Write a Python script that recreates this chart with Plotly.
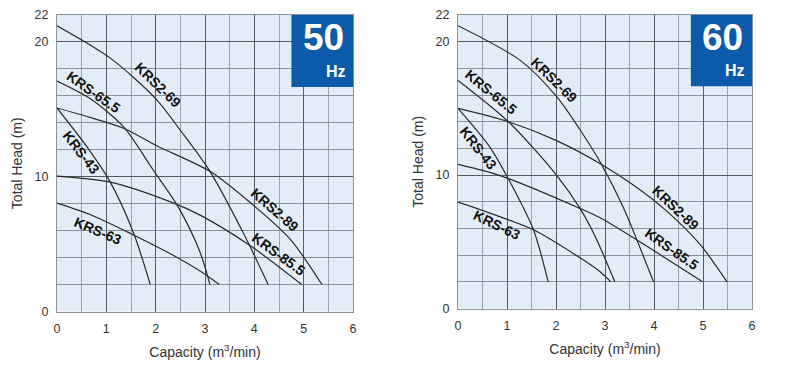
import plotly.graph_objects as go

# ---------------- data ----------------
x_ticks = [0, 1, 2, 3, 4, 5, 6]
y_ticks = [0, 10, 20, 22]

# 50 Hz curves (capacity m3/min, head m)
hz50_krs2_69_x = [0, 1.08, 2.0, 2.53, 3.1, 3.78, 4.28]
hz50_krs2_69_y = [21.2, 18.8, 15.8, 13.3, 10.4, 5.8, 2.0]
hz50_krs65_x = [0, 0.67, 1.35, 1.95, 2.45, 2.9, 3.1]
hz50_krs65_y = [17.1, 15.8, 13.7, 10.5, 7.8, 4.4, 2.0]
hz50_krs43_x = [0, 0.67, 1.08, 1.55, 1.89]
hz50_krs43_y = [15.1, 11.9, 9.6, 5.85, 2.0]
hz50_krs2_89_x = [0, 0.67, 1.35, 2.02, 3.1, 3.91, 4.73, 5.37]
hz50_krs2_89_y = [15.1, 14.4, 13.6, 12.3, 10.4, 8.1, 5.35, 2.0]
hz50_krs85_x = [0, 1.08, 2.29, 2.9, 3.91, 4.96]
hz50_krs85_y = [10.05, 9.6, 8.15, 7.15, 4.9, 2.0]
hz50_krs63_x = [0, 0.67, 1.54, 2.29, 2.9, 3.29]
hz50_krs63_y = [8.05, 7.2, 5.7, 4.3, 3.0, 2.0]

# 60 Hz curves
hz60_krs2_69_x = [0, 1.27, 2.01, 2.49, 2.93, 3.37, 3.99]
hz60_krs2_69_y = [21.2, 18.6, 15.9, 13.4, 10.8, 7.6, 2.0]
hz60_krs65_x = [0, 1.03, 2.01, 2.49, 2.8, 3.2]
hz60_krs65_y = [17.1, 14.0, 10.0, 7.5, 5.4, 2.0]
hz60_krs43_x = [0, 0.65, 1.06, 1.54, 1.84]
hz60_krs43_y = [15.0, 12.1, 9.5, 5.9, 2.0]
hz60_krs2_89_x = [0, 1.03, 2.0, 2.93, 3.6, 4.26, 4.94, 5.49]
hz60_krs2_89_y = [15.0, 14.0, 12.6, 10.8, 9.2, 7.3, 4.8, 2.0]
hz60_krs85_x = [0, 0.65, 1.06, 2.49, 2.9, 3.58, 4.99]
hz60_krs85_y = [10.8, 10.2, 9.7, 7.5, 6.8, 5.3, 2.0]
hz60_krs63_x = [0, 0.65, 1.54, 2.49, 2.9, 3.12]
hz60_krs63_y = [7.97, 7.15, 5.9, 3.8, 2.76, 2.0]

# curve labels: (text, x, y, angle)
labels_50 = [("KRS2-69", 2.05, 16.8, 44), ("KRS-65.5", 0.74, 16.3, 35),
             ("KRS-43", 0.48, 11.8, 52), ("KRS-63", 0.84, 6.0, 23),
             ("KRS2-89", 4.42, 7.55, 41), ("KRS-85.5", 4.49, 4.27, 36)]
labels_60 = [("KRS2-69", 1.96, 17.1, 44), ("KRS-65.5", 0.67, 16.2, 39),
             ("KRS-43", 0.41, 12.0, 52), ("KRS-63", 0.80, 6.26, 26),
             ("KRS2-89", 4.45, 7.56, 43), ("KRS-85.5", 4.36, 4.45, 35)]

badges = [("50", "x", "y"), ("60", "x2", "y2")]

# ---------------- figure ----------------
W, H = 788, 376
OFF = 8  # page body margin of the browser

fig = go.Figure()
line_style = dict(color="#2a2a2a", width=1.2, shape="spline", smoothing=0.8)

curves50 = [(hz50_krs2_69_x, hz50_krs2_69_y), (hz50_krs65_x, hz50_krs65_y),
            (hz50_krs43_x, hz50_krs43_y), (hz50_krs2_89_x, hz50_krs2_89_y),
            (hz50_krs85_x, hz50_krs85_y), (hz50_krs63_x, hz50_krs63_y)]
curves60 = [(hz60_krs2_69_x, hz60_krs2_69_y), (hz60_krs65_x, hz60_krs65_y),
            (hz60_krs43_x, hz60_krs43_y), (hz60_krs2_89_x, hz60_krs2_89_y),
            (hz60_krs85_x, hz60_krs85_y), (hz60_krs63_x, hz60_krs63_y)]

for cx, cy in curves50:
    fig.add_trace(go.Scatter(x=cx, y=cy, mode="lines", line=line_style,
                             xaxis="x", yaxis="y", showlegend=False, hoverinfo="skip"))
for cx, cy in curves60:
    fig.add_trace(go.Scatter(x=cx, y=cy, mode="lines", line=line_style,
                             xaxis="x2", yaxis="y2", showlegend=False, hoverinfo="skip"))

annotations = []
for labels, xr, yr in [(labels_50, "x", "y"), (labels_60, "x2", "y2")]:
    for t, lx, ly, ang in labels:
        annotations.append(dict(text="<b>" + t + "</b>", x=lx, y=ly, xref=xr, yref=yr,
                                showarrow=False, textangle=ang,
                                font=dict(family="Liberation Sans, Arial", size=14, color="#111")))

shapes = []
for txt, xr, yr in badges:
    shapes.append(dict(type="rect", xref=xr + " domain", yref=yr + " domain",
                       x0=0.792, x1=1.0, y0=0.757, y1=1.0,
                       fillcolor="#0B5BAA", line=dict(width=0), layer="above"))
    annotations.append(dict(text="<b>" + txt + "</b>", xref=xr + " domain", yref=yr + " domain",
                            x=0.90, y=0.925, showarrow=False, xanchor="center", yanchor="middle",
                            font=dict(family="Liberation Sans, Arial", size=37, color="white")))
    annotations.append(dict(text="<b>Hz</b>", xref=xr + " domain", yref=yr + " domain",
                            x=0.982, y=0.81, showarrow=False, xanchor="right", yanchor="middle",
                            font=dict(family="Liberation Sans, Arial", size=16, color="white")))

tick_font = dict(family="Liberation Sans, Arial", size=12.5, color="#333")
title_font = dict(family="Liberation Sans, Arial", size=14, color="#333")


def px_dom_x(a, b):
    return [(a - OFF) / W, (b - OFF) / W]


def px_dom_y(top, bottom):
    return [1 - (bottom - OFF) / H, 1 - (top - OFF) / H]


def xaxis(domain, anchor):
    return dict(domain=domain, anchor=anchor, range=[0, 6], tickvals=x_ticks,
                showgrid=True, gridcolor="#555b62", gridwidth=1,
                minor=dict(dtick=0.5, tick0=0, showgrid=True, gridcolor="#9aa3ad", gridwidth=1),
                showline=True, mirror=True, linecolor="#8a939c", linewidth=1,
                ticks="outside", ticklen=5, tickcolor="rgba(0,0,0,0)",
                tickfont=tick_font, ticklabeloverflow="allow",
                zeroline=False, fixedrange=True, automargin=False,
                title=dict(text="Capacity (m<sup>3</sup>/min)", font=title_font, standoff=12))


def yaxis(domain, anchor):
    return dict(domain=domain, anchor=anchor, range=[0, 22], tickvals=y_ticks,
                showgrid=True, gridcolor="#555b62", gridwidth=1,
                minor=dict(dtick=2, tick0=0, showgrid=True, gridcolor="#8a939c", gridwidth=1),
                showline=True, mirror=True, linecolor="#8a939c", linewidth=1,
                ticks="outside", ticklen=5, tickcolor="rgba(0,0,0,0)",
                tickfont=tick_font, ticklabeloverflow="allow",
                zeroline=False, fixedrange=True, automargin=False,
                title=dict(text="Total Head (m)", font=title_font, standoff=8))


fig.update_layout(
    width=W, height=H,
    margin=dict(l=0, r=0, t=0, b=0, autoexpand=False),
    paper_bgcolor="white",
    plot_bgcolor="#E3EDF7",
    xaxis=xaxis(px_dom_x(57, 353), "y"),
    yaxis=yaxis(px_dom_y(15, 311.5), "x"),
    xaxis2=xaxis(px_dom_x(458, 752), "y2"),
    yaxis2=yaxis(px_dom_y(15, 308.5), "x2"),
    shapes=shapes,
    annotations=annotations,
    showlegend=False,
)

fig.write_html("out.html")
